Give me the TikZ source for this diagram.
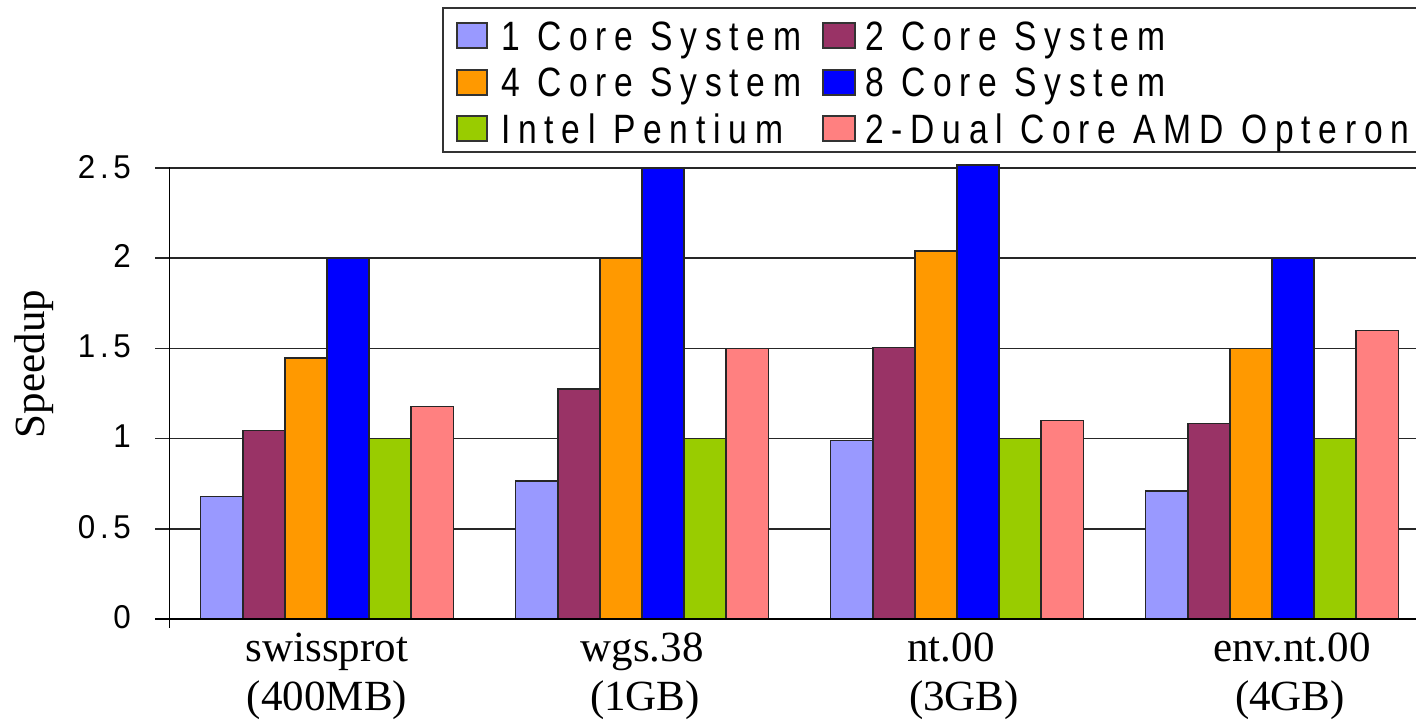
\documentclass[tikz,border=0pt]{standalone}
\usepackage{fontspec}
\setmainfont{Liberation Serif}
\newfontfamily\legfont[LetterSpace=19,FakeStretch=0.82]{Liberation Sans}
\newfontfamily\tickfont[LetterSpace=14,FakeStretch=0.95]{Liberation Sans}
\definecolor{bar1}{HTML}{9999FF}
\definecolor{bar2}{HTML}{993366}
\definecolor{bar3}{HTML}{FF9900}
\definecolor{bar4}{HTML}{0000FF}
\definecolor{bar5}{HTML}{99CC00}
\definecolor{bar6}{HTML}{FF8080}
\definecolor{framegray}{HTML}{333333}
\tikzset{
  gridline/.style={draw=black!85, line width=1.5bp},
  axisline/.style={draw=black, line width=1.5bp},
  barbox/.style={draw=black!85, line width=1.5bp},
  legbox/.style={draw=framegray, line width=1.6bp, fill=white},
  swatch/.style={draw=black!80, line width=1.3bp},
  legtext/.style={anchor=base west, inner sep=0pt, font=\legfont\fontsize{41bp}{48bp}\selectfont},
  ticklab/.style={anchor=base east, inner sep=0pt, font=\tickfont\fontsize{33bp}{38bp}\selectfont},
  catlab/.style={anchor=base, inner sep=0pt, font=\fontsize{43bp}{50bp}\selectfont},
}
\begin{document}
\begin{tikzpicture}[x=1bp,y=-1bp]
\useasboundingbox (0,0) rectangle (1416,723);
\clip (0,0) rectangle (1416,723);
% grid lines with left ticks
\foreach \v in {0.5,1,1.5,2,2.5}{
  \draw[gridline] (155,{619-180.4*\v}) -- (1430,{619-180.4*\v});
}
% bars
\foreach \g/\vals in {0/{0.678,1.044,1.447,2.0,1.0,1.177},
                      1/{0.765,1.275,2.0,2.5,1.0,1.5},
                      2/{0.99,1.504,2.04,2.517,1.0,1.1},
                      3/{0.71,1.085,1.5,2.0,1.0,1.6}}{
  \foreach \v [count=\i] in \vals {
    \draw[barbox, fill=bar\i] ({200.7+315*\g+42.1*(\i-1)},619) rectangle ({200.7+315*\g+42.1*\i},{619-180.4*\v});
  }
}
% axes
\coordinate (ytop) at (169.5,167);
\coordinate (ybot) at (169.5,628);
\coordinate (xl) at (155,619);
\coordinate (xr) at (1430,619);
\draw[axisline] (ytop) -- (ybot);
\draw[axisline] (xl) -- (xr);
% tick labels
\node[ticklab] (t0) at (131,628) {0};
\node[ticklab] (t05) at (131,538) {0.5};
\node[ticklab] (t1) at (131,447) {1};
\node[ticklab] (t15) at (131,357) {1.5};
\node[ticklab] (t2) at (131,267) {2};
\node[ticklab] (t25) at (131,178) {2.5};
% y axis title
\node[rotate=90, anchor=base, inner sep=0pt, font=\fontsize{43bp}{50bp}\selectfont] (ytitle) at (44,364) {Speedup};
% category labels
\node[catlab] (c1a) at (327,661) {swissprot};
\node[catlab] (c1b) at (327,710) {(400MB)};
\node[catlab] (c2a) at (642,661) {wgs.38};
\node[catlab] (c2b) at (645,710) {(1GB)};
\node[catlab] (c3a) at (951,661) {nt.00};
\node[catlab] (c3b) at (964,710) {(3GB)};
\node[catlab] (c4a) at (1292,661) {env.nt.00};
\node[catlab] (c4b) at (1290,710) {(4GB)};
% legend
\draw[legbox] (443,8) rectangle (1440,152);
\draw[swatch, fill=bar1] (457,23) rectangle (487,48);
\draw[swatch, fill=bar3] (457,70) rectangle (487,95);
\draw[swatch, fill=bar5] (457,116) rectangle (487,141);
\draw[swatch, fill=bar2] (823,23) rectangle (855,48);
\draw[swatch, fill=bar4] (823,70) rectangle (855,95);
\draw[swatch, fill=bar6] (823,116) rectangle (855,141);
\node[legtext] (l1) at (501,51) {1 Core System};
\node[legtext] (l3) at (501,97) {4 Core System};
\node[legtext] (l5) at (501,143) {Intel Pentium};
\node[legtext] (l2) at (865,51) {2 Core System};
\node[legtext] (l4) at (865,97) {8 Core System};
\node[legtext] (l6) at (865,143) {2-Dual Core AMD\ Opteron};
\end{tikzpicture}
\end{document}
